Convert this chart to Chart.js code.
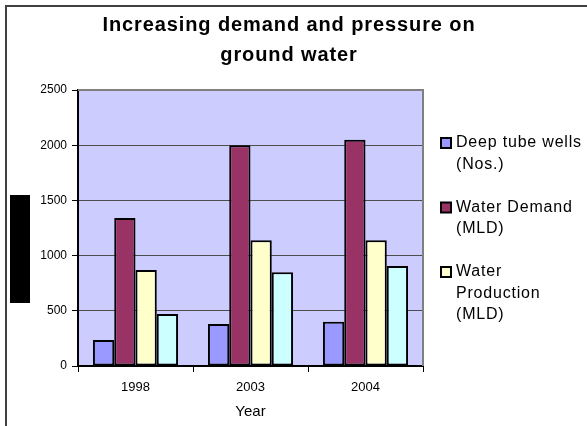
<!DOCTYPE html>
<html>
<head>
<meta charset="utf-8">
<script src="https://cdn.jsdelivr.net/npm/chart.js@4/dist/chart.umd.min.js"></script>
<style>
  html, body { margin: 0; padding: 0; background: #ffffff; }
  #wrap { width: 587px; height: 426px; position: relative; }
</style>
</head>
<body>
<div id="wrap"><canvas id="c" width="587" height="426"></canvas></div>
<script>
// Categories and series
const years = ['1998', '2003', '2004'];
const deepTubeWells = [235, 380, 400];
const waterDemand = [1340, 2000, 2050];
const waterProduction = [870, 1140, 1140];
const waterSupply = [470, 850, 905];

// Series names (legend lines) and fills
const seriesLabels = [
  ['Deep tube wells', '(Nos.)'],
  ['Water Demand', '(MLD)'],
  ['Water', 'Production', '(MLD)'],
  ['Water Supply', '(MLD)']
];
const seriesColors = ['#9999FF', '#993366', '#FFFFCC', '#CCFFFF'];
const legendCount = 3;

// Axis settings
const yTicks = [0, 500, 1000, 1500, 2000, 2500];
const titleLines = ['Increasing demand and pressure on', 'ground water'];
const xAxisTitle = 'Year';

const FONT = 'Liberation Sans, Arial, Helvetica, sans-serif';

const seriesData = [deepTubeWells, waterDemand, waterProduction, waterSupply];
const datasets = seriesData.map((d, i) => ({
  label: seriesLabels[i].join(' '),
  data: d,
  backgroundColor: seriesColors[i],
  borderColor: '#000000',
  borderWidth: 2,
  borderSkipped: false,
  categoryPercentage: 0.74,
  barPercentage: 1.0
}));

// Frame, plot background, title, legend and the dark block left of the axis
const decor = {
  id: 'decor',
  beforeDraw(chart) {
    const { ctx, chartArea: a } = chart;
    ctx.save();
    ctx.fillStyle = '#ffffff';
    ctx.fillRect(0, 0, chart.width, chart.height);
    ctx.fillStyle = '#CCCCFF';
    ctx.fillRect(a.left, a.top, a.right - a.left, a.bottom - a.top);
    // outer frame
    ctx.strokeStyle = '#404040';
    ctx.lineWidth = 2;
    ctx.beginPath();
    ctx.moveTo(6, chart.height + 2);
    ctx.lineTo(6, 6);
    ctx.lineTo(chart.width + 2, 6);
    ctx.stroke();
    // dark block
    ctx.fillStyle = '#000000';
    ctx.fillRect(10, 195, 20, 108);
    ctx.restore();
  },
  beforeDatasetsDraw(chart) {
    const { ctx, chartArea: a } = chart;
    ctx.save();
    ctx.strokeStyle = '#808080';
    ctx.lineWidth = 2;
    ctx.beginPath();
    ctx.moveTo(a.left, a.top);
    ctx.lineTo(a.right, a.top);
    ctx.lineTo(a.right, a.bottom);
    ctx.stroke();
    ctx.restore();
  },
  afterDraw(chart) {
    const { ctx } = chart;
    ctx.save();
    // title
    ctx.fillStyle = '#000000';
    ctx.font = 'bold 20px ' + FONT;
    ctx.textAlign = 'center';
    ctx.textBaseline = 'middle';
    if ('letterSpacing' in ctx) ctx.letterSpacing = '0.9px';
    titleLines.forEach((t, i) => ctx.fillText(t, 289, 25 + i * 30));
    // legend
    ctx.font = '16px ' + FONT;
    ctx.textAlign = 'left';
    if ('letterSpacing' in ctx) ctx.letterSpacing = '0.8px';
    let line = 0;
    const y0 = 143, lh = 21.5;
    for (let i = 0; i < legendCount; i++) {
      const y = y0 + line * lh;
      ctx.fillStyle = seriesColors[i];
      ctx.fillRect(441, y - 5, 10, 10);
      ctx.strokeStyle = '#000000';
      ctx.lineWidth = 2;
      ctx.strokeRect(441, y - 5, 10, 10);
      ctx.fillStyle = '#000000';
      seriesLabels[i].forEach((t, k) => ctx.fillText(t, 456, y + k * lh));
      line += seriesLabels[i].length + 1;
    }
    ctx.restore();
  }
};

new Chart(document.getElementById('c'), {
  type: 'bar',
  data: { labels: years, datasets },
  plugins: [decor],
  options: {
    responsive: false,
    animation: false,
    devicePixelRatio: 1,
    layout: { padding: { left: 0, top: 90, right: 164, bottom: 0 } },
    plugins: {
      legend: { display: false },
      title: { display: false },
      tooltip: { enabled: false }
    },
    scales: {
      x: {
        grid: { offset: true, drawOnChartArea: false, color: '#000000', tickLength: 6, lineWidth: 1 },
        border: { display: true, color: '#000000', width: 2 },
        ticks: { color: '#000000', font: { family: FONT, size: 13 }, padding: 8 },
        title: { display: true, text: xAxisTitle, color: '#000000', font: { family: FONT, size: 15 }, padding: { top: 0, bottom: 5 } },
        afterFit(scale) { scale.height = 60; }
      },
      y: {
        min: 0,
        max: 2500,
        afterBuildTicks(scale) { scale.ticks = yTicks.map(v => ({ value: v })); },
        grid: { color: '#4d4d4d', tickLength: 6, lineWidth: 1, tickColor: '#000000' },
        border: { display: true, color: '#000000', width: 2 },
        ticks: { color: '#000000', font: { family: FONT, size: 12 }, padding: 5, callback: v => String(v) },
        afterFit(scale) { scale.width = 78; }
      }
    }
  }
});
</script>
</body>
</html>
